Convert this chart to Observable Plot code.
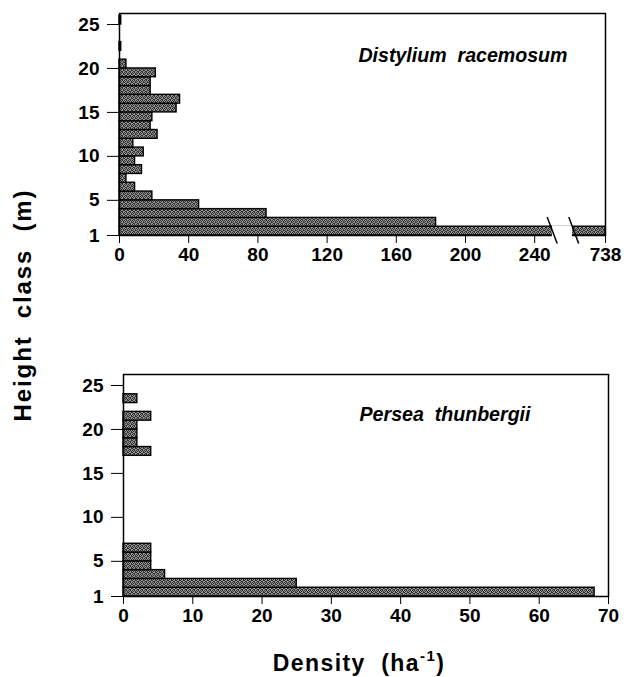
<!DOCTYPE html>
<html>
<head>
<meta charset="utf-8">
<script src="https://cdn.jsdelivr.net/npm/d3@7"></script>
<script src="https://cdn.jsdelivr.net/npm/@observablehq/plot@0.6"></script>
<style>
  html, body { margin: 0; padding: 0; background: white; }
  #chart { position: relative; width: 624px; height: 677px; background: white; overflow: hidden;
           font-family: "Liberation Sans", Arial, sans-serif; color: black; }
  #top, #bottom { position: absolute; left: 0; }
  #top { top: 0; }
  #bottom { top: 362px; }
  #ylabel { position: absolute; left: 23px; top: 305px; transform: translate(-50%, -50%) rotate(-90deg);
            white-space: pre; font-weight: bold; font-size: 24px; letter-spacing: 1.9px; }
  #xlabel { position: absolute; left: 359px; top: 663px; transform: translate(-50%, -50%);
            white-space: pre; font-weight: bold; font-size: 23px; letter-spacing: 1.4px; }
  #xlabel sup { font-size: 15px; position: relative; top: -2px; }
</style>
</head>
<body>
<div id="chart">
  <div id="top"></div>
  <div id="bottom"></div>
  <div id="ylabel">Height  class  (m)</div>
  <div id="xlabel">Density  (ha<sup>-1</sup>)</div>
</div>
<script>
// Height classes (m): each bar spans [h, h+1]
const heightClass = [1, 2, 3, 4, 5, 6, 7, 8, 9, 10, 11, 12, 13, 14, 15, 16, 17, 18, 19, 20, 21, 22, 23, 24, 25];
// Density (ha^-1) per height class
const distyliumDensity = [738, 183, 85, 46, 19, 9, 4, 13, 9, 14, 8, 22, 18, 19, 33, 35, 18, 18, 21, 4, 0, 1, 0, 0, 1];
const perseaDensity = [68, 25, 6, 4, 4, 4, 0, 0, 0, 0, 0, 0, 0, 0, 0, 0, 4, 2, 2, 2, 4, 0, 2, 0, 0];
// Tick labels
const yTicks = [1, 5, 10, 15, 20, 25];
const topXTicks = [0, 40, 80, 120, 160, 200, 240, 738];
const bottomXTicks = [0, 10, 20, 30, 40, 50, 60, 70];
// Species names
const speciesTop = "Distylium  racemosum";
const speciesBottom = "Persea  thunbergii";
// Broken-axis markers on the top panel (data units)
const breakGap = [{x1: 258, x2: 707, y1: 0.5, y2: 2.1}];
const breakSlashes = [
  {x1: 247.2, y1: 3.1, x2: 366, y2: 0.08},
  {x1: 625, y1: 3.1, x2: 731.3, y2: 0.08}
];

const rowsTop = heightClass.map((h, i) => ({h, v: distyliumDensity[i]})).filter(d => d.v > 0);
const rowsBottom = heightClass.map((h, i) => ({h, v: perseaDensity[i]})).filter(d => d.v > 0);

const baseStyle = {
  fontFamily: "'Liberation Sans', Arial, sans-serif",
  fontWeight: "bold",
  fontSize: "19px",
  color: "black",
  background: "white",
  overflow: "visible"
};

function addPattern(svg) {
  const ns = "http://www.w3.org/2000/svg";
  const defs = document.createElementNS(ns, "defs");
  const dark = [[0,0],[2,0],[1,1],[3,1],[0,2],[3,2],[1,3],[2,3]];
  defs.innerHTML = `<pattern id="stipple" x="0" y="0" width="4" height="4" patternUnits="userSpaceOnUse">
      <rect width="4" height="4" fill="#959595"></rect>
      ${dark.map(([x, y]) => `<rect x="${x}" y="${y}" width="1" height="1" fill="#2e2e2e"></rect>`).join("")}
    </pattern>`;
  svg.prepend(defs);
  return svg;
}

const barStyle = {fill: "url(#stipple)", stroke: "black", strokeWidth: 1.4};

const topPlot = Plot.plot({
  width: 624,
  height: 270,
  marginLeft: 119,
  marginRight: 19,
  marginTop: 13,
  marginBottom: 35,
  style: baseStyle,
  x: {type: "linear", domain: [0, 250, 730, 738], range: [119, 551.5, 573, 605],
      ticks: topXTicks, tickFormat: d => String(d), tickSize: 8, tickPadding: 4, label: null},
  y: {domain: [1, 26.25], ticks: yTicks, tickSize: 12, tickPadding: 8, label: null},
  marks: [
    Plot.rect(rowsTop, {x1: 0, x2: "v", y1: "h", y2: d => d.h + 1, ...barStyle}),
    Plot.frame({stroke: "black", strokeWidth: 1.5}),
    Plot.rect(breakGap, {x1: "x1", x2: "x2", y1: "y1", y2: "y2", fill: "white", clip: false}),
    Plot.link(breakSlashes, {x1: "x1", y1: "y1", x2: "x2", y2: "y2", stroke: "black", strokeWidth: 1.5}),
    Plot.text([speciesTop], {text: d => d, frameAnchor: "top-right", textAnchor: "end", lineAnchor: "middle",
      dx: -38, dy: 42, fontSize: 19.6, fontStyle: "italic", fontWeight: "bold"})
  ]
});
document.getElementById("top").appendChild(addPattern(topPlot));

const bottomPlot = Plot.plot({
  width: 624,
  height: 269,
  marginLeft: 123,
  marginRight: 16,
  marginTop: 12,
  marginBottom: 35,
  style: baseStyle,
  x: {domain: [0, 70], ticks: bottomXTicks, tickSize: 8, tickPadding: 4, label: null},
  y: {domain: [1, 26.25], ticks: yTicks, tickSize: 12, tickPadding: 8, label: null},
  marks: [
    Plot.rect(rowsBottom, {x1: 0, x2: "v", y1: "h", y2: d => d.h + 1, ...barStyle}),
    Plot.frame({stroke: "black", strokeWidth: 1.5}),
    Plot.text([speciesBottom], {text: d => d, frameAnchor: "top-right", textAnchor: "end", lineAnchor: "middle",
      dx: -78, dy: 40, fontSize: 19.6, fontStyle: "italic", fontWeight: "bold"})
  ]
});
document.getElementById("bottom").appendChild(addPattern(bottomPlot));
</script>
</body>
</html>
